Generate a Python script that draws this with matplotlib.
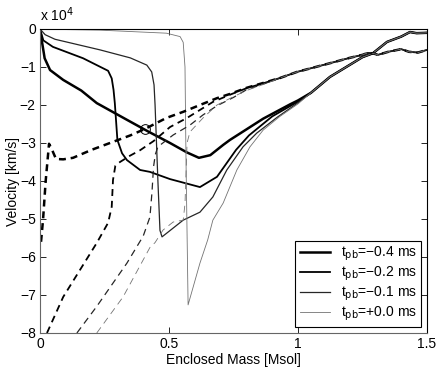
import numpy as np
import matplotlib
matplotlib.use("Agg")
import matplotlib.pyplot as plt

plt.rcParams['font.family'] = ['Liberation Sans', 'DejaVu Sans']
plt.rcParams['lines.scale_dashes'] = False

# velocity (solid) in units of 1e4 km/s
x_v04 = [0, 0.008, 0.018, 0.039, 0.09, 0.16, 0.22, 0.337, 0.42, 0.504, 0.57, 0.616, 0.66, 0.71, 0.736, 0.865, 0.97, 1.0]
y_v04 = [0, -0.35, -0.77, -1.08, -1.34, -1.62, -1.95, -2.39, -2.7, -3.0, -3.25, -3.39, -3.32, -3.05, -2.92, -2.36, -1.98, -1.88]
x_v02 = [0, 0.013, 0.05, 0.167, 0.264, 0.278, 0.285, 0.29, 0.30, 0.318, 0.337, 0.388, 0.426, 0.504, 0.62, 0.686, 0.76, 0.81, 0.9, 1.0]
y_v02 = [0, -0.3, -0.47, -0.77, -1.1, -1.3, -1.6, -1.95, -2.92, -3.27, -3.45, -3.71, -3.76, -3.95, -4.16, -3.89, -3.18, -2.8, -2.3, -1.91]
x_v01 = [0, 0.02, 0.058, 0.233, 0.35, 0.414, 0.433, 0.442, 0.446, 0.457, 0.465, 0.473, 0.555, 0.62, 0.67, 0.724, 0.787, 0.84, 0.92, 1.0]
y_v01 = [0, -0.15, -0.27, -0.55, -0.76, -0.95, -1.13, -1.47, -2.0, -4.0, -5.3, -5.47, -5.03, -4.82, -4.42, -3.71, -3.1, -2.74, -2.32, -1.94]
x_v00 = [0, 0.05, 0.233, 0.49, 0.543, 0.555, 0.562, 0.566, 0.574, 0.62, 0.65, 0.67, 0.71, 0.763, 0.814, 0.865, 0.93, 1.0]
y_v00 = [0, -0.01, -0.03, -0.11, -0.2, -0.35, -1.0, -3.5, -7.26, -6.16, -5.55, -5.03, -4.58, -3.71, -3.1, -2.66, -2.3, -1.97]
x_vtail = [1.05, 1.124, 1.25, 1.29, 1.345, 1.40, 1.434, 1.46, 1.5]
y_vtail = [-1.68, -1.26, -0.74, -0.64, -0.34, -0.2, -0.08, -0.11, -0.1]

# dashed curves
x_d04 = [0.004, 0.012, 0.022, 0.035, 0.048, 0.062, 0.09, 0.128, 0.2, 0.283, 0.35, 0.407, 0.49, 0.555, 0.62, 0.686, 0.736, 0.80, 0.865]
y_d04 = [-5.6, -5.0, -4.0, -3.02, -3.2, -3.42, -3.43, -3.39, -3.18, -2.97, -2.8, -2.63, -2.34, -2.18, -2.0, -1.82, -1.71, -1.55, -1.42]
x_d02 = [0.027, 0.09, 0.155, 0.22, 0.264, 0.278, 0.283, 0.292, 0.31, 0.35, 0.388, 0.44, 0.504, 0.57, 0.62, 0.67, 0.736, 0.80, 0.865]
y_d02 = [-8.0, -7.05, -6.34, -5.63, -5.1, -4.68, -3.97, -3.6, -3.5, -3.33, -3.19, -2.95, -2.58, -2.34, -2.13, -1.92, -1.73, -1.56, -1.43]
x_d01 = [0.143, 0.22, 0.337, 0.40, 0.426, 0.434, 0.44, 0.447, 0.457, 0.516, 0.581, 0.632, 0.686, 0.75, 0.80, 0.865]
y_d01 = [-8.0, -7.3, -6.16, -5.45, -4.95, -4.3, -3.63, -3.3, -3.1, -2.79, -2.53, -2.26, -2.02, -1.8, -1.6, -1.45]
x_d00 = [0.22, 0.322, 0.426, 0.446, 0.477, 0.516, 0.555, 0.562, 0.566, 0.57, 0.581, 0.632, 0.686, 0.75, 0.80, 0.865]
y_d00 = [-8.0, -7.05, -5.75, -5.62, -5.29, -5.08, -5.03, -4.6, -3.8, -3.0, -2.71, -2.34, -2.0, -1.78, -1.62, -1.46]
x_dtail = [0.93, 0.996, 1.124, 1.2, 1.25, 1.27, 1.29, 1.31, 1.35, 1.40, 1.43, 1.465, 1.5]
y_dtail = [-1.29, -1.13, -0.9, -0.76, -0.68, -0.63, -0.64, -0.68, -0.6, -0.53, -0.6, -0.62, -0.55]

circle_x = [0.407]
circle_y = [-2.63]

labels = ['t$_{\\rm pb}$=\u22120.4 ms', 't$_{\\rm pb}$=\u22120.2 ms',
          't$_{\\rm pb}$=\u22120.1 ms', 't$_{\\rm pb}$=+0.0 ms']

solid = [(x_v04, y_v04), (x_v02, y_v02), (x_v01, y_v01), (x_v00, y_v00)]
dashed = [(x_d04, y_d04), (x_d02, y_d02), (x_d01, y_d01), (x_d00, y_d00)]
widths = [1.8, 1.3, 0.9, 0.6]
colors = ['black', 'black', '0.15', '0.45']

fig = plt.figure(figsize=(4.42, 3.71), dpi=100)
ax = fig.add_axes([40 / 442, 1 - 333 / 371, 387 / 442, 304 / 371])

handles = []
for (xs, ys), lw, c, lab in zip(solid, widths, colors, labels):
    h, = ax.plot(xs + x_vtail, ys + y_vtail, color=c, lw=lw, label=lab)
    handles.append(h)

for (xs, ys), lw, c in zip(dashed, widths, colors):
    ax.plot(xs + x_dtail, ys + y_dtail, color=c, lw=lw, dashes=(5, 3.5))

ax.plot(circle_x, circle_y, 'o', mfc='none', mec='black', ms=7, mew=0.7)

ax.set_xlim(0, 1.5)
ax.set_ylim(-8, 0)
ax.set_xticks([0, 0.5, 1, 1.5])
ax.set_xticklabels(['0', '0.5', '1', '1.5'])
ax.set_yticks(range(-8, 1))
ax.set_yticklabels(['\u2212%d' % -v if v < 0 else '0' for v in range(-8, 1)])
ax.tick_params(direction='in', top=True, right=True, length=4, width=0.6,
               labelsize=10, pad=3)
for s in ['left', 'bottom']:
    ax.spines[s].set_color('0.4')
for s in ax.spines.values():
    s.set_linewidth(0.8)

ax.set_xlabel('Enclosed Mass [Msol]', fontsize=10, labelpad=1)
ax.set_ylabel('Velocity [km/s]', fontsize=10, labelpad=0)
ax.text(0.0, 1.015, 'x 10$^4$', transform=ax.transAxes, fontsize=10,
        ha='left', va='bottom')

leg = ax.legend(handles=handles, loc='lower right', fontsize=10,
                fancybox=False, framealpha=1, edgecolor='black',
                handlelength=2.2, labelspacing=0.12, borderaxespad=0.4,
                borderpad=0.3)
leg.get_frame().set_linewidth(0.8)

plt.savefig('out.png', dpi=100)
